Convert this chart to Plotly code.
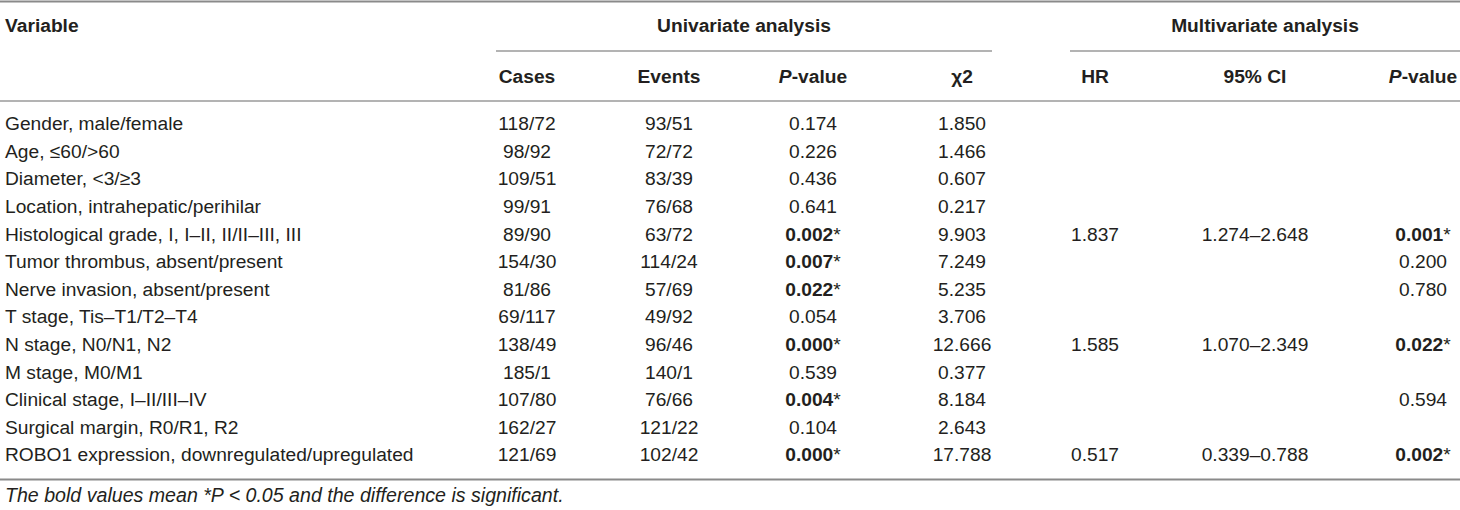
"""
Univariate / multivariate survival analysis table drawn with plotly
"""

import plotly.graph_objects as go

# Table data
variables = [
    "Gender, male/female",
    "Age, ≤60/>60",
    "Diameter, &lt;3/≥3",
    "Location, intrahepatic/perihilar",
    "Histological grade, I, I–II, II/II–III, III",
    "Tumor thrombus, absent/present",
    "Nerve invasion, absent/present",
    "T stage, Tis–T1/T2–T4",
    "N stage, N0/N1, N2",
    "M stage, M0/M1",
    "Clinical stage, I–II/III–IV",
    "Surgical margin, R0/R1, R2",
    "ROBO1 expression, downregulated/upregulated",
]
cases = ["118/72", "98/92", "109/51", "99/91", "89/90", "154/30", "81/86",
         "69/117", "138/49", "185/1", "107/80", "162/27", "121/69"]
events = ["93/51", "72/72", "83/39", "76/68", "63/72", "114/24", "57/69",
          "49/92", "96/46", "140/1", "76/66", "121/22", "102/42"]
uni_p = ["0.174", "0.226", "0.436", "0.641", "0.002", "0.007", "0.022",
         "0.054", "0.000", "0.539", "0.004", "0.104", "0.000"]
chi2 = ["1.850", "1.466", "0.607", "0.217", "9.903", "7.249", "5.235",
        "3.706", "12.666", "0.377", "8.184", "2.643", "17.788"]
hr = ["", "", "", "", "1.837", "", "", "", "1.585", "", "", "", "0.517"]
ci95 = ["", "", "", "", "1.274–2.648", "", "", "", "1.070–2.349", "", "", "", "0.339–0.788"]
multi_p = ["", "", "", "", "0.001", "0.200", "0.780", "", "0.022", "", "0.594", "", "0.002"]

header_groups = ["Univariate analysis", "Multivariate analysis"]
headers = ["Cases", "Events", "<i>P</i>-value", "χ2", "HR", "95% CI", "<i>P</i>-value"]
footnote = "The bold values mean *P &lt; 0.05 and the difference is significant."


def mark_sig(vals):
    out = []
    for v in vals:
        if v != "" and float(v) < 0.05:
            out.append(f"<b>{v}</b>*")
        else:
            out.append(v)
    return out


# Layout (pixel coordinates)
W, H = 1460, 510
row0, row_step = 125.5, 27.6
rows_y = [row0 + i * row_step for i in range(len(variables))]
col_x = [527, 669, 813, 962, 1095, 1255, 1423]
header_y1, header_y2 = 27, 78
FONT = "Liberation Sans, Arial, sans-serif"
TXT = "#231f20"
LINE = "#9a9a9a"
FS = 19.2

fig = go.Figure()

# Variable column (left aligned)
fig.add_trace(go.Scatter(
    x=[5] * len(variables), y=rows_y, text=variables, mode="text",
    textposition="middle right", textfont=dict(family=FONT, size=FS, color=TXT),
    hoverinfo="skip", showlegend=False))

columns = [cases, events, mark_sig(uni_p), chi2, hr, ci95, mark_sig(multi_p)]
for cx, vals in zip(col_x, columns):
    fig.add_trace(go.Scatter(
        x=[cx] * len(vals), y=rows_y, text=vals, mode="text",
        textposition="middle center", textfont=dict(family=FONT, size=FS, color=TXT),
        hoverinfo="skip", showlegend=False))

# Header row with column names
header_x = [527, 669, 813, 962, 1095, 1255, 1423]
fig.add_trace(go.Scatter(
    x=header_x, y=[header_y2] * len(headers),
    text=[f"<b>{h}</b>" for h in headers], mode="text",
    textposition="middle center", textfont=dict(family=FONT, size=FS, color=TXT),
    hoverinfo="skip", showlegend=False))

# Group headers
fig.add_trace(go.Scatter(
    x=[5, 744, 1265], y=[header_y1] * 3,
    text=["<b>Variable</b>"] + [f"<b>{g}</b>" for g in header_groups], mode="text",
    textposition=["middle right", "middle center", "middle center"],
    textfont=dict(family=FONT, size=FS, color=TXT),
    hoverinfo="skip", showlegend=False))

# Footnote
fig.add_trace(go.Scatter(
    x=[5], y=[497], text=[f"<i>{footnote}</i>"], mode="text",
    textposition="middle right", textfont=dict(family=FONT, size=19.6, color=TXT),
    hoverinfo="skip", showlegend=False))

# Rules
rules = [
    (0, W, 1.5, 2, "#8a8a8a"),
    (496, 992, 51, 1.5, LINE),
    (1070, W, 51, 1.5, LINE),
    (0, W, 101, 1.5, LINE),
    (0, W, 479.5, 2, "#8a8a8a"),
]
for x0, x1, y, w, c in rules:
    fig.add_shape(type="line", x0=x0, x1=x1, y0=y, y1=y, xref="x", yref="y",
                  line=dict(color=c, width=w))

fig.update_xaxes(range=[0, W], visible=False, fixedrange=True)
fig.update_yaxes(range=[H, 0], visible=False, fixedrange=True)
fig.update_layout(
    width=W, height=H,
    margin=dict(l=0, r=0, t=0, b=0),
    paper_bgcolor="white", plot_bgcolor="white",
)

fig.write_html("out.html", config={"displayModeBar": False},
               post_script="document.body.style.margin='0';document.body.style.overflow='hidden';")
